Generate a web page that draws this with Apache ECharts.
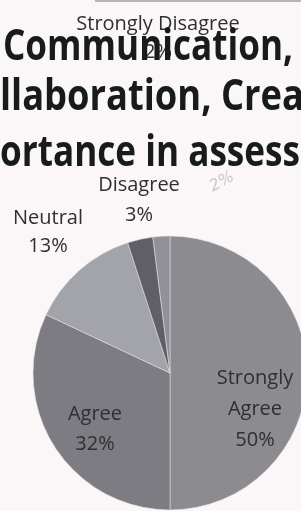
<!DOCTYPE html>
<html>
<head>
<meta charset="utf-8">
<script src="https://cdn.jsdelivr.net/npm/echarts@6/dist/echarts.min.js"></script>
<style>
html,body{margin:0;padding:0;background:#fbf7f9;}
#chart{width:301px;height:511px;}
</style>
</head>
<body>
<div id="chart"></div>
<script>
// ---- data ----
var categories = ['Strongly Agree', 'Agree', 'Neutral', 'Disagree', 'Strongly Disagree'];
var percents = [50, 32, 13, 3, 2];
// title lines: [hidden prefix (clipped off the left edge), text measured for width, rest clipped off the right]
var titleLines = [
  ['', 'Communication,', ' Collaboration'],
  ['Co', 'llaboration, Crea', 'tivity'],
  ['Imp', 'ortance in assess', 'ment']
];
var annotation = '2%';

// ---- styles / layout ----
var sliceColors = ['#8b8b90', '#7c7c82', '#a3a3aa', '#5f5f67', '#919199'];
var labelAnchors = [[255, 409], [95, 429], [48, 232], [139, 200], [158, 38]];
var labelLineHeights = [31, 30, 28, 30, 28];
var titleFont = "700 43px 'Open Sans'";
var titleStartX = [3, 0, 0];
var titleVisibleWidth = [290, 304, 300];
var titleMidY = [48, 98, 154];

var ctx = document.createElement('canvas').getContext('2d');
ctx.font = titleFont;

var graphics = [];
titleLines.forEach(function (ln, i) {
  var sx = titleVisibleWidth[i] / ctx.measureText(ln[1]).width;
  var pre = ln[0] ? ctx.measureText(ln[0]).width * sx : 0;
  graphics.push({
    type: 'text', x: titleStartX[i] - pre, y: titleMidY[i], scaleX: sx, z: 10,
    style: { text: ln[0] + ln[1] + ln[2], x: 0, y: 0, font: titleFont, fill: '#171b1c', verticalAlign: 'middle', align: 'left' }
  });
});
graphics.push({
  type: 'text', x: 222, y: 182, rotation: 0.5, z: 5,
  style: { text: annotation, font: "italic 16px 'DejaVu Sans'", fill: '#cbc5cd', align: 'center', verticalAlign: 'middle' }
});
graphics.push({
  type: 'line', shape: { x1: 95, y1: 1, x2: 301, y2: 1 }, z: 1,
  style: { stroke: '#9a989a', lineWidth: 2, opacity: 0.7 }
});

var chart = echarts.init(document.getElementById('chart'), null, { renderer: 'canvas' });
chart.setOption({
  backgroundColor: '#fbf7f9',
  animation: false,
  graphic: graphics,
  series: [{
    type: 'pie',
    center: [170, 373],
    radius: 137,
    startAngle: 90,
    clockwise: true,
    z: 2,
    data: categories.map(function (c, i) {
      return {
        name: c, value: percents[i],
        itemStyle: { color: sliceColors[i] },
        label: { lineHeight: labelLineHeights[i] }
      };
    }),
    itemStyle: { borderColor: 'rgba(225,225,228,0.55)', borderWidth: 1 },
    label: {
      show: true,
      position: 'inside',
      fontFamily: 'Open Sans',
      fontSize: 20,
      color: '#2e2f33',
      formatter: function (p) {
        var n = p.dataIndex === 0 ? p.name.replace(' ', '\n') : p.name;
        return n + '\n' + p.value + '%';
      }
    },
    labelLine: { show: false },
    labelLayout: function (p) {
      var a = labelAnchors[p.dataIndex];
      return { x: a[0], y: a[1], align: 'center', verticalAlign: 'middle' };
    },
    emphasis: { disabled: true }
  }]
});
</script>
</body>
</html>
